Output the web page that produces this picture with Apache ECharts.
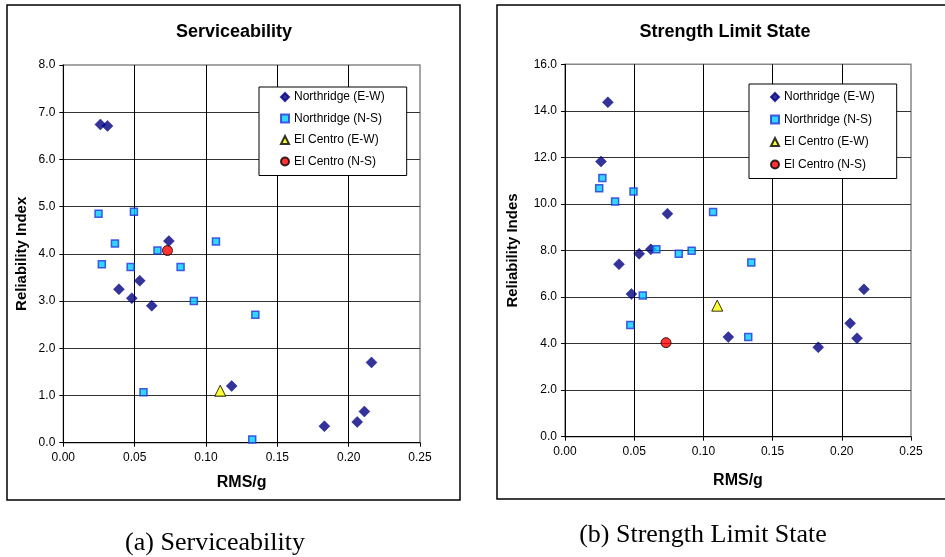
<!DOCTYPE html>
<html>
<head>
<meta charset="utf-8">
<script src="https://cdn.jsdelivr.net/npm/echarts@6/dist/echarts.min.js"></script>
<style>
html, body { margin: 0; padding: 0; background: #fff; }
#grafico { width: 945px; height: 557px; }
</style>
</head>
<body>
<div id="grafico"></div>
<script>
/* dados */
var nomes = ['Northridge (E-W)', 'Northridge (N-S)', 'El Centro (E-W)', 'El Centro (N-S)'];

var rmsNrEW = [0.026, 0.031, 0.039, 0.048, 0.0536, 0.062, 0.074, 0.118, 0.183, 0.206, 0.211, 0.216];
var servNrEW = [6.74, 6.71, 3.25, 3.06, 3.43, 2.90, 4.27, 1.20, 0.35, 0.44, 0.66, 1.70];
var strNrEW = [11.82, 14.37, 7.41, 6.13, 7.86, 8.05, 9.58, 4.28, 3.84, 4.87, 4.23, 6.33];

var rmsNrNS = [0.0247, 0.027, 0.0362, 0.0472, 0.0495, 0.0562, 0.066, 0.0822, 0.0915, 0.107, 0.1324, 0.1346];
var servNrNS = [4.85, 3.78, 4.22, 3.72, 4.89, 1.07, 4.07, 3.72, 3.00, 4.26, 0.07, 2.71];
var strNrNS = [10.67, 11.12, 10.10, 4.80, 10.54, 6.07, 8.05, 7.86, 7.99, 9.65, 4.28, 7.48];

var rmsElEW = [0.110];
var servElEW = [1.10];
var strElEW = [5.63];

var rmsElNS = [0.073];
var servElNS = [4.07];
var strElNS = [4.04];

var ticksX = [0, 0.25, 0.05];
var ticksServ = [0, 8, 1];
var ticksStr = [0, 16, 2];

function pares(xs, ys) {
    var out = [];
    for (var i = 0; i < xs.length; i++) {
        out.push([xs[i], ys[i]]);
    }
    return out;
}

var fonte = 'Arial, "Liberation Sans", sans-serif';
var serif = '"Liberation Serif", "Times New Roman", serif';

var estilos = [
    { symbol: 'diamond', symbolSize: 11, itemStyle: { color: '#000080', borderColor: '#000080', borderWidth: 0.5 } },
    { symbol: 'rect', symbolSize: 7, itemStyle: { color: '#00ccff', borderColor: '#2233dd', borderWidth: 1.5 } },
    { symbol: 'triangle', symbolSize: 11, itemStyle: { color: '#ffff00', borderColor: '#000', borderWidth: 1 } },
    { symbol: 'circle', symbolSize: 10, itemStyle: { color: '#ff0000', borderColor: '#000', borderWidth: 1 } }
];

function serie(i, grid, data) {
    return {
        name: nomes[i],
        type: 'scatter',
        xAxisIndex: grid,
        yAxisIndex: grid,
        symbol: estilos[i].symbol,
        symbolSize: estilos[i].symbolSize,
        itemStyle: estilos[i].itemStyle,
        data: data,
        animation: false
    };
}

function eixoX(grid, gap) {
    return {
        type: 'value',
        gridIndex: grid,
        min: ticksX[0], max: ticksX[1], interval: ticksX[2],
        name: 'RMS/g',
        nameLocation: 'middle',
        nameGap: gap,
        nameTextStyle: { fontFamily: fonte, fontWeight: 'bold', fontSize: 16, color: '#000' },
        axisLine: { lineStyle: { color: '#000', width: 1 } },
        axisTick: { show: true, length: 4, lineStyle: { color: '#000' } },
        axisLabel: { fontFamily: fonte, fontSize: 12, color: '#000', margin: 9,
            formatter: function (v) { return v.toFixed(2); } },
        splitLine: { show: true, showMaxLine: false, lineStyle: { color: '#000', width: 1 } }
    };
}

function eixoY(grid, nome, t, gap) {
    return {
        type: 'value',
        gridIndex: grid,
        min: t[0], max: t[1], interval: t[2],
        name: nome,
        nameLocation: 'middle',
        nameGap: gap,
        nameTextStyle: { fontFamily: fonte, fontWeight: 'bold', fontSize: 15, color: '#000' },
        axisLine: { show: true, lineStyle: { color: '#000', width: 1 } },
        axisTick: { show: true, length: 4, lineStyle: { color: '#000' } },
        axisLabel: { fontFamily: fonte, fontSize: 12, color: '#000', margin: 8,
            formatter: function (v) { return v.toFixed(1); } },
        splitLine: { show: true, showMaxLine: false, lineStyle: { color: '#333', width: 1 } }
    };
}

function legenda(left, top, gap, padTop) {
    return {
        left: left, top: top,
        orient: 'vertical',
        data: nomes,
        itemWidth: 8, itemHeight: 8,
        itemGap: gap,
        padding: [padTop, 22, 8, 21],
        backgroundColor: '#fff',
        borderColor: '#000',
        borderWidth: 1,
        textStyle: { fontFamily: fonte, fontSize: 12, color: '#000' }
    };
}

var dom = document.getElementById('grafico');
var myChart = echarts.init(dom);

var option = {
    backgroundColor: '#fff',
    animation: false,
    title: [
        { text: 'Serviceability', left: 234, top: 23, textAlign: 'center', padding: 0,
          textStyle: { fontFamily: fonte, fontWeight: 'bold', fontSize: 18, color: '#000' } },
        { text: 'Strength Limit State', left: 725, top: 23, textAlign: 'center', padding: 0,
          textStyle: { fontFamily: fonte, fontWeight: 'bold', fontSize: 18, color: '#000' } }
    ],
    legend: [legenda(259, 87, 9.5, 4), legenda(749, 84, 10.5, 7)],
    grid: [
        { left: 63.3, top: 65, width: 356.7, height: 377.7, show: true, borderColor: '#888', borderWidth: 1.5, backgroundColor: 'transparent' },
        { left: 565, top: 64.3, width: 346, height: 372.4, show: true, borderColor: '#888', borderWidth: 1.5, backgroundColor: 'transparent' }
    ],
    xAxis: [eixoX(0, 32), eixoX(1, 36)],
    yAxis: [eixoY(0, 'Reliability Index', ticksServ, 34), eixoY(1, 'Reliability Indes', ticksStr, 45)],
    series: [
        serie(0, 0, pares(rmsNrEW, servNrEW)),
        serie(1, 0, pares(rmsNrNS, servNrNS)),
        serie(2, 0, pares(rmsElEW, servElEW)),
        serie(3, 0, pares(rmsElNS, servElNS)),
        serie(0, 1, pares(rmsNrEW, strNrEW)),
        serie(1, 1, pares(rmsNrNS, strNrNS)),
        serie(2, 1, pares(rmsElEW, strElEW)),
        serie(3, 1, pares(rmsElNS, strElNS))
    ],
    graphic: [
        { type: 'rect', shape: { x: 7, y: 5, width: 453, height: 495 },
          style: { fill: 'none', stroke: '#000', lineWidth: 1.5 }, silent: true },
        { type: 'rect', shape: { x: 497, y: 5, width: 460, height: 494 },
          style: { fill: 'none', stroke: '#000', lineWidth: 1.5 }, silent: true },
        { type: 'text', x: 215, y: 543,
          style: { text: '(a) Serviceability', font: '26px ' + serif,
                   textAlign: 'center', textVerticalAlign: 'middle', fill: '#000' } },
        { type: 'text', x: 703, y: 535,
          style: { text: '(b) Strength Limit State', font: '26px ' + serif,
                   textAlign: 'center', textVerticalAlign: 'middle', fill: '#000' } }
    ]
};

if (option && typeof option === 'object') {
    myChart.setOption(option, true);
}
</script>
</body>
</html>
